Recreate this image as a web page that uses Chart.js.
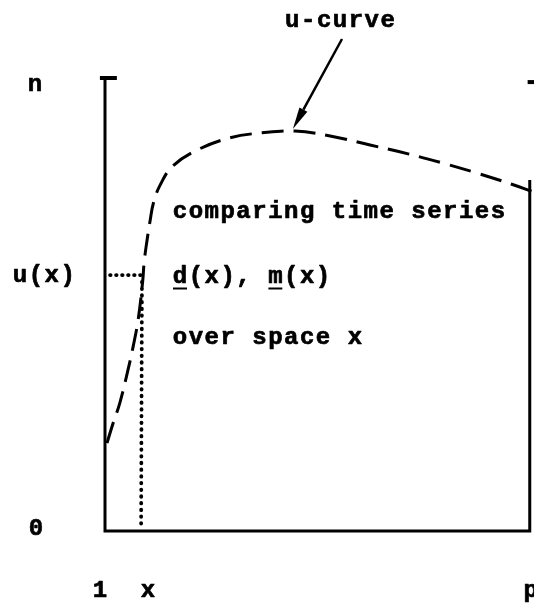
<!DOCTYPE html>
<html>
<head>
<meta charset="utf-8">
<script src="https://cdn.jsdelivr.net/npm/chart.js@4.4.1/dist/chart.umd.min.js"></script>
<style>
  html, body { margin: 0; padding: 0; background: #fff; }
  canvas { display: block; }
</style>
</head>
<body>
<canvas id="c" width="534" height="604"></canvas>
<script>
// ---- data (x: 0 = "1", 100 = "p"; y: 0 = "0", 100 = "n") ----
const curveX = [0.47, 1.9, 3.5, 5.4, 6.6, 7.8, 8.9, 9.2, 9.9, 10.6, 11.4, 13.0, 16.0, 21.7, 29.4, 37.0, 44.7, 53.0, 62.4, 71.6, 79.6, 87.6, 95.6, 101];
const curveY = [19.4, 23.8, 28.3, 35.5, 40.6, 46.6, 55.4, 59.2, 64.2, 68.4, 72.4, 76.4, 80.6, 84.1, 86.8, 87.9, 88.3, 87.2, 85.2, 83.2, 81.2, 79.0, 76.6, 74.8];
const xTickValues = [0, 8.7, 100];
const xTickLabels = ['1', 'x', 'p'];
const yTickValues = [0, 56.5, 100];
const yTickLabels = ['0', 'u(x)', 'n'];
const uValue = 56.5;       // u(x)
const xValue = 8.7;        // position x
const peakIndex = 16;      // u-curve arrow target
const rightAxisTop = 77.5;

const curve = curveX.map((x, i) => ({ x, y: curveY[i] }));

const FONT = 'bold 24px "Liberation Mono", "DejaVu Sans Mono", monospace';
const PITCH = 15.9;

function drawMono(ctx, text, x, y, align) {
  const total = text.length * PITCH;
  const start = align === 'center' ? x - total / 2 : x;
  ctx.textAlign = 'center';
  for (let i = 0; i < text.length; i++) {
    const cx = start + PITCH * (i + 0.5);
    ctx.fillText(text[i], cx, y);
    ctx.strokeText(text[i], cx, y);
  }
}

const textPlugin = {
  id: 'texts',
  afterDraw(chart) {
    const ctx = chart.ctx;
    const xs = chart.scales.x, ys = chart.scales.y;
    ctx.save();
    ctx.fillStyle = '#000';
    ctx.strokeStyle = '#000';
    ctx.font = FONT;
    ctx.textBaseline = 'alphabetic';
    ctx.lineWidth = 0.7;
    ctx.lineJoin = 'round';

    // y tick labels
    const yLabelLeft = [28, 12, 27];
    const yLabelDy = [4, 7, 13];
    yTickValues.forEach((v, i) => {
      drawMono(ctx, yTickLabels[i], yLabelLeft[i], ys.getPixelForValue(v) + yLabelDy[i], 'left');
    });
    // x tick labels
    const xLabelDx = [-5, 6, 1];
    xTickValues.forEach((v, i) => {
      drawMono(ctx, xTickLabels[i], xs.getPixelForValue(v) + xLabelDx[i], 597, 'center');
    });

    // annotations
    drawMono(ctx, 'comparing time series', 172, 218, 'left');
    drawMono(ctx, 'd(x), m(x)', 172, 283, 'left');
    drawMono(ctx, 'over space x', 172, 344, 'left');
    drawMono(ctx, 'u-curve', 340, 27, 'center');

    // underlines of d and m
    ctx.lineWidth = 2;
    ctx.beginPath();
    ctx.moveTo(173, 288.5); ctx.lineTo(187, 288.5);
    ctx.moveTo(172 + 6 * PITCH + 1, 288.5); ctx.lineTo(172 + 7 * PITCH - 1, 288.5);
    ctx.stroke();

    // arrow to the u-curve peak
    const tipX = xs.getPixelForValue(curveX[peakIndex]) - 2;
    const tipY = ys.getPixelForValue(curveY[peakIndex]) - 2;
    const sx = 342, sy = 39;
    const ang = Math.atan2(tipY - sy, tipX - sx);
    const headLen = 22, headW = 4.5;
    const bx = tipX - headLen * Math.cos(ang), by = tipY - headLen * Math.sin(ang);
    ctx.lineWidth = 2.5;
    ctx.beginPath();
    ctx.moveTo(sx, sy); ctx.lineTo(bx, by);
    ctx.stroke();
    ctx.beginPath();
    ctx.moveTo(tipX, tipY);
    ctx.lineTo(bx + headW * Math.sin(ang), by - headW * Math.cos(ang));
    ctx.lineTo(bx - headW * Math.sin(ang), by + headW * Math.cos(ang));
    ctx.closePath();
    ctx.fill();
    ctx.restore();
  }
};

new Chart(document.getElementById('c'), {
  type: 'line',
  data: {
    datasets: [
      {
        label: 'axes',
        data: [{ x: 0, y: 100 }, { x: 0, y: 0 }, { x: 100, y: 0 }, { x: 100, y: rightAxisTop }],
        borderColor: '#000', borderWidth: 3, pointRadius: 0, tension: 0, clip: false,
        borderJoinStyle: 'miter'
      },
      {
        label: 'top bar',
        data: [{ x: -1.2, y: 100 }, { x: 2.8, y: 100 }],
        borderColor: '#000', borderWidth: 4, pointRadius: 0, clip: false
      },
      {
        label: 'right top mark',
        data: [{ x: 99.5, y: 99.1 }, { x: 101, y: 99.1 }],
        borderColor: '#000', borderWidth: 4, pointRadius: 0, clip: false
      },
      {
        label: 'u(x) level',
        data: [{ x: 1.2, y: uValue }, { x: xValue + 0.2, y: uValue }],
        borderColor: '#000', borderWidth: 3.8, pointRadius: 0,
        borderDash: [0.5, 5.5], borderCapStyle: 'round', clip: false
      },
      {
        label: 'x position',
        data: [{ x: xValue, y: 55.0 }, { x: xValue - 0.2, y: 0.9 }],
        borderColor: '#000', borderWidth: 3.8, pointRadius: 0,
        borderDash: [0.5, 6.2], borderCapStyle: 'round', clip: false
      },
      {
        label: 'u-curve',
        data: curve,
        borderColor: '#000', borderWidth: 3, pointRadius: 0,
        borderDash: [22, 10], tension: 0.4, clip: false
      }
    ]
  },
  options: {
    responsive: false,
    animation: false,
    devicePixelRatio: 1,
    layout: { padding: { left: 105, right: 0, top: 78, bottom: 73 } },
    plugins: { legend: { display: false }, tooltip: { enabled: false } },
    scales: {
      x: { type: 'linear', min: 0, max: 101, display: false },
      y: { type: 'linear', min: 0, max: 100, display: false }
    }
  },
  plugins: [textPlugin]
});
</script>
</body>
</html>
